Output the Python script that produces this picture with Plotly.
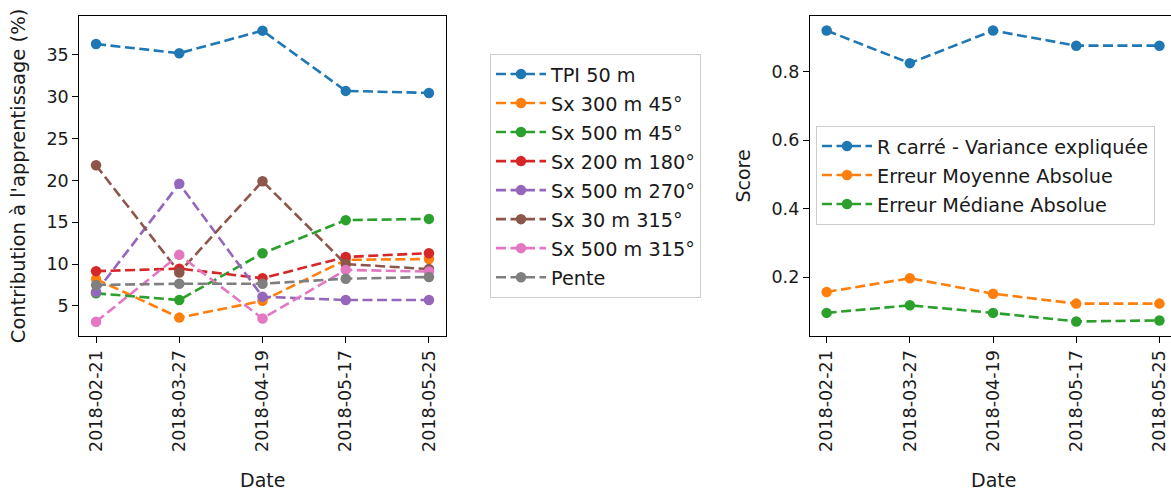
import plotly.graph_objects as go

dates = ["2018-02-21", "2018-03-27", "2018-04-19", "2018-05-17", "2018-05-25"]

# Left panel: contribution (%)
tpi_50 = [36.3, 35.2, 37.9, 30.7, 30.45]
sx300_45 = [8.2, 3.6, 5.6, 10.5, 10.6]
sx500_45 = [6.5, 5.7, 11.3, 15.25, 15.4]
sx200_180 = [9.15, 9.45, 8.3, 10.85, 11.3]
sx500_270 = [6.65, 19.6, 6.1, 5.7, 5.7]
sx30_315 = [21.8, 9.0, 19.9, 10.0, 9.4]
sx500_315 = [3.1, 11.1, 3.5, 9.3, 9.1]
pente = [7.5, 7.65, 7.65, 8.25, 8.45]

left_names = ["TPI 50 m", "Sx 300 m 45°", "Sx 500 m 45°", "Sx 200 m 180°",
              "Sx 500 m 270°", "Sx 30 m 315°", "Sx 500 m 315°", "Pente"]
left_series = [tpi_50, sx300_45, sx500_45, sx200_180, sx500_270, sx30_315, sx500_315, pente]

# Right panel: scores
r2 = [0.919, 0.824, 0.919, 0.875, 0.875]
mae = [0.157, 0.197, 0.152, 0.123, 0.123]
medae = [0.096, 0.118, 0.096, 0.071, 0.074]
right_names = ["R carré - Variance expliquée", "Erreur Moyenne Absolue", "Erreur Médiane Absolue"]
right_series = [r2, mae, medae]

colors = ["#1f77b4", "#ff7f0e", "#2ca02c", "#d62728", "#9467bd", "#8c564b", "#e377c2", "#7f7f7f"]

FONT = "DejaVu Sans"
FS = 17.5
FS_T = 19
FS_L = 19.25
TXT = "#1a1a1a"
LW = 2.6
MS = 10.5
DASH = "10px,4.5px"

fig = go.Figure()
for i, (name, vals) in enumerate(zip(left_names, left_series)):
    fig.add_trace(go.Scatter(
        x=dates, y=vals, name=name, mode="lines+markers",
        line=dict(color=colors[i], width=LW, dash=DASH),
        marker=dict(color=colors[i], size=MS),
        xaxis="x", yaxis="y", legend="legend", legendgroup="l%d" % i,
    ))
for i, (name, vals) in enumerate(zip(right_names, right_series)):
    fig.add_trace(go.Scatter(
        x=dates, y=vals, name=name, mode="lines+markers",
        line=dict(color=colors[i], width=LW, dash=DASH),
        marker=dict(color=colors[i], size=MS),
        xaxis="x2", yaxis="y2", legend="legend2", legendgroup="r%d" % i,
    ))

W, H = 1171, 491
def px(v):
    return v / W
def py(v):
    return 1 - v / H

axis_common = dict(
    showline=True, linecolor="black", linewidth=1.4,
    ticks="outside", ticklen=6, tickwidth=1.4, tickcolor="black",
    showgrid=False, zeroline=False, automargin=False,
    tickfont=dict(family=FONT, size=FS, color=TXT),
)
title_font = dict(family=FONT, size=FS_T, color=TXT)

left_dom = [px(79.4), px(445.6)]
right_dom = [px(810), 1.0]

fig.update_layout(
    width=W, height=H,
    margin=dict(l=0, r=0, t=0, b=0),
    plot_bgcolor="white", paper_bgcolor="white",
    font=dict(family=FONT, size=FS, color=TXT),
    xaxis=dict(domain=left_dom, type="category", range=[-0.2, 4.2],
               tickangle=-90, mirror=True, anchor="y",
               **axis_common),
    yaxis=dict(domain=[py(336), py(16)], range=[1.4, 39.65], mirror=True, anchor="x",
               tickvals=[5, 10, 15, 20, 25, 30, 35],
               title=dict(text="Contribution à l'apprentissage (%)",
                          font=dict(family=FONT, size=19.5, color=TXT)),
               **axis_common),
    xaxis2=dict(domain=right_dom, type="category", range=[-0.2, 4.139],
                tickangle=-90, mirror=True, anchor="y2",
                **axis_common),
    yaxis2=dict(domain=[py(336), py(16)], range=[0.0286, 0.9615], mirror=False, anchor="x2",
                tickvals=[0.2, 0.4, 0.6, 0.8], ticktext=["0.2", "0.4", "0.6", "0.8"],
                title=dict(text="Score", font=title_font),
                **axis_common),
    legend=dict(x=px(490), y=py(54), xanchor="left", yanchor="top",
                bordercolor="#cccccc", borderwidth=1, bgcolor="white",
                itemwidth=50,
                font=dict(family=FONT, size=FS_L, color=TXT), tracegroupgap=1),
    legend2=dict(x=px(816), y=py(126), xanchor="left", yanchor="top",
                 bordercolor="#cccccc", borderwidth=1, bgcolor="rgba(255,255,255,0.8)",
                 itemwidth=50,
                 font=dict(family=FONT, size=FS_L, color=TXT), tracegroupgap=1),
    showlegend=True,
    annotations=[
        dict(text="Date", xref="paper", yref="paper", x=px(262.5), y=py(480),
             xanchor="center", yanchor="middle", showarrow=False, font=title_font),
        dict(text="Date", xref="paper", yref="paper", x=px(993), y=py(480),
             xanchor="center", yanchor="middle", showarrow=False, font=title_font),
    ],
)

fig.write_html("out.html", config={"displayModeBar": False},
               post_script="document.body.style.margin='0';document.body.style.padding='0';")
